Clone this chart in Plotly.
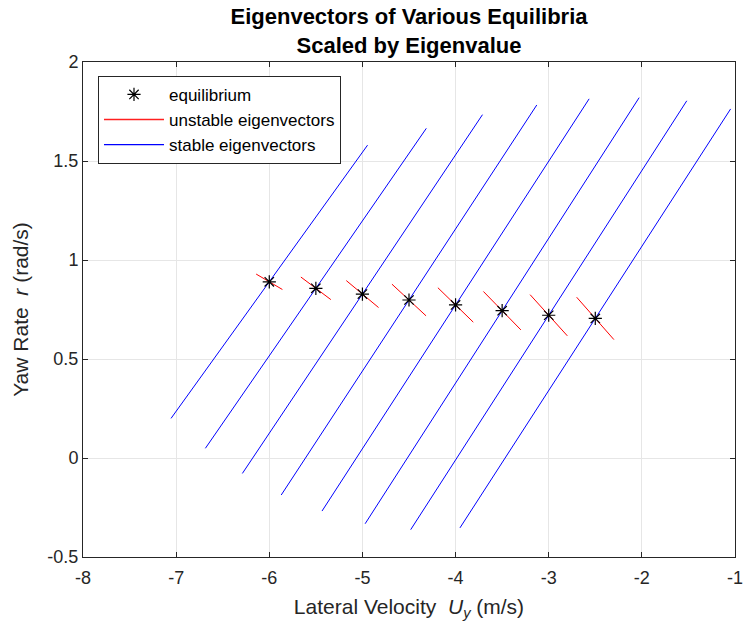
import plotly.graph_objects as go

# equilibrium points
eq_uy = [-6.0, -5.5, -5.0, -4.5, -4.0, -3.5, -3.0, -2.5]
eq_r = [0.890, 0.857, 0.828, 0.798, 0.773, 0.744, 0.721, 0.705]

# stable eigenvectors (scaled by eigenvalue), half-length components
stable_du = [1.055, 1.186, 1.289, 1.372, 1.434, 1.471, 1.482, 1.453]
stable_dr = [0.690, 0.808, 0.906, 0.985, 1.041, 1.076, 1.083, 1.058]

# unstable eigenvectors (scaled by eigenvalue), half-length components
unstable_du = [0.141, 0.161, 0.173, 0.183, 0.190, 0.201, 0.200, 0.200]
unstable_dr = [-0.039, -0.057, -0.068, -0.080, -0.087, -0.097, -0.104, -0.107]

# tick labels (plain hyphen minus, as in the original)
x_ticks = [-8, -7, -6, -5, -4, -3, -2, -1]
x_ticklabels = ['-8', '-7', '-6', '-5', '-4', '-3', '-2', '-1']
y_ticks = [-0.5, 0, 0.5, 1, 1.5, 2]
y_ticklabels = ['-0.5', '0', '0.5', '1', '1.5', '2']

FONT = "Liberation Sans, Arial, sans-serif"
AX = "#262626"


def segments(x0, y0, dx, dy):
    xs, ys = [], []
    for x, y, u, v in zip(x0, y0, dx, dy):
        xs += [x - u, x + u, None]
        ys += [y - v, y + v, None]
    return xs, ys


fig = go.Figure()

sx, sy = segments(eq_uy, eq_r, stable_du, stable_dr)
fig.add_trace(go.Scatter(x=sx, y=sy, mode='lines', line=dict(color='#0000ff', width=1),
                         showlegend=False, hoverinfo='skip'))
ux, uy = segments(eq_uy, eq_r, unstable_du, unstable_dr)
fig.add_trace(go.Scatter(x=ux, y=uy, mode='lines', line=dict(color='#ff0000', width=1),
                         showlegend=False, hoverinfo='skip'))
fig.add_trace(go.Scatter(x=eq_uy, y=eq_r, mode='markers', name='equilibrium',
                         marker=dict(symbol='asterisk-open', size=11, color='black',
                                     line=dict(color='black', width=1.2))))

# legend-only entries
fig.add_trace(go.Scatter(x=[None], y=[None], mode='lines', name='unstable eigenvectors',
                         line=dict(color='#ff2020', width=1.3)))
fig.add_trace(go.Scatter(x=[None], y=[None], mode='lines', name='stable eigenvectors',
                         line=dict(color='#0000ff', width=1.3)))

axis_common = dict(showgrid=True, gridcolor='#e6e6e6', gridwidth=1, zeroline=False,
                   showline=True, linecolor=AX, linewidth=1, mirror='ticks',
                   ticks='inside', ticklen=5, tickcolor=AX,
                   tickfont=dict(family=FONT, size=18, color=AX))

fig.update_xaxes(range=[-8, -1], tickvals=x_ticks, ticktext=x_ticklabels,
                 ticklabelstandoff=4,
                 title=dict(text='Lateral Velocity  <i>U</i><sub><i>y</i></sub> (m/s)',
                            font=dict(family=FONT, size=21, color=AX), standoff=12),
                 **axis_common)
fig.update_yaxes(range=[-0.5, 2], tickvals=y_ticks, ticktext=y_ticklabels,
                 title=dict(text='Yaw Rate  <i>r</i> (rad/s)',
                            font=dict(family=FONT, size=21, color=AX), standoff=13),
                 **axis_common)

fig.update_layout(
    width=756, height=639,
    paper_bgcolor='white', plot_bgcolor='white',
    margin=dict(l=83, r=21, t=62, b=82),
    title=dict(text='<b>Eigenvectors of Various Equilibria<br>Scaled by Eigenvalue</b>',
               x=0.541, xanchor='center', y=0.962, yanchor='top',
               font=dict(family=FONT, size=22, color='black')),
    legend=dict(x=0.023, y=0.972, xanchor='left', yanchor='top',
                bgcolor='white', bordercolor=AX, borderwidth=1,
                font=dict(family=FONT, size=17, color='black'),
                tracegroupgap=0, itemwidth=60),
    showlegend=True,
)

fig.write_html("out.html", config={'displayModeBar': False},
               post_script="document.body.style.margin='0px';")
